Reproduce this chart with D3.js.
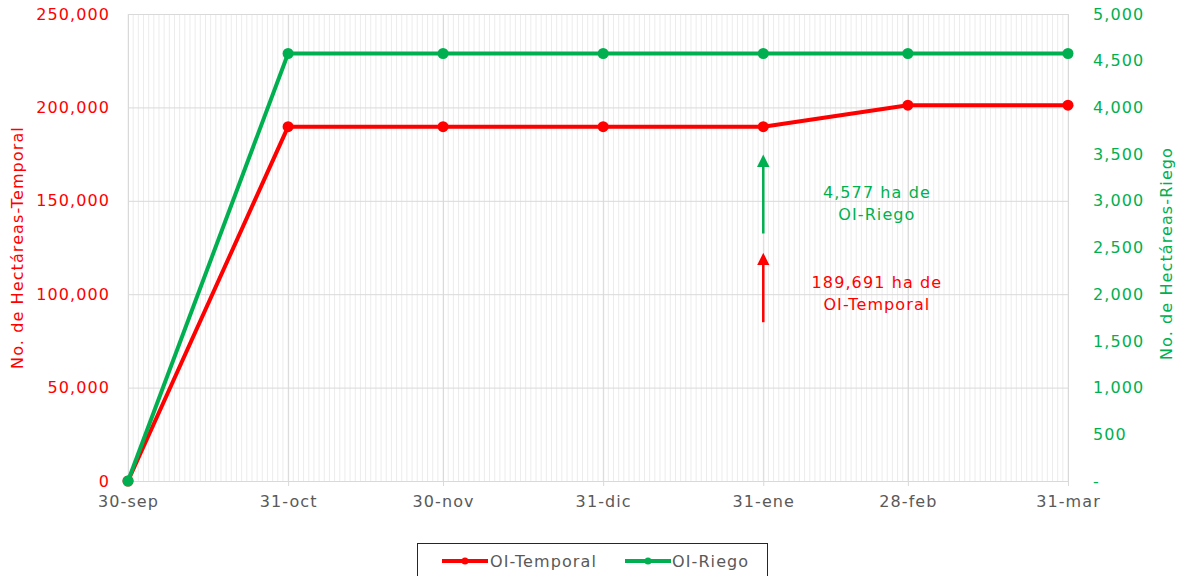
<!DOCTYPE html>
<html>
<head>
<meta charset="utf-8">
<script src="https://cdn.jsdelivr.net/npm/d3@7.9.0/dist/d3.min.js"></script>
<style>
  body { margin: 0; background: #fff; }
  svg text { font-family: "DejaVu Sans", sans-serif; letter-spacing: 1.1px; }
</style>
</head>
<body>
<svg id="chart" width="1184" height="576"></svg>
<script>
const dates = ['2020-09-30', '2020-10-31', '2020-11-30', '2020-12-31', '2021-01-31', '2021-02-28', '2021-03-31'];
const tickLabels = ['30-sep', '31-oct', '30-nov', '31-dic', '31-ene', '28-feb', '31-mar'];
const temporal = [0, 189691, 189691, 189691, 189691, 201200, 201200];
const riego = [0, 4577, 4577, 4577, 4577, 4577, 4577];
const leftTicks = [0, 50000, 100000, 150000, 200000, 250000];
const rightTicks = [0, 500, 1000, 1500, 2000, 2500, 3000, 3500, 4000, 4500, 5000];

const RED = '#ff0000';
const GREEN = '#00b050';

const parse = d3.timeParse('%Y-%m-%d');
const xDates = dates.map(parse);

const margin = { top: 14, right: 116, bottom: 95, left: 128 };
const width = 1184, height = 576;
const usable = {
    left: margin.left,
    right: width - margin.right,
    top: margin.top,
    bottom: height - margin.bottom,
};

const svg = d3.select('#chart');

const xScale = d3.scaleTime()
    .domain(d3.extent(xDates))
    .range([usable.left, usable.right]);
const yLeft = d3.scaleLinear().domain([0, 250000]).range([usable.bottom, usable.top]);
const yRight = d3.scaleLinear().domain([0, 5000]).range([usable.bottom, usable.top]);

// daily minor gridlines
const days = d3.timeDay.range(xDates[0], d3.timeDay.offset(xDates[xDates.length - 1], 1));
svg.append('g')
    .selectAll('line')
    .data(days)
    .join('line')
    .attr('x1', d => xScale(d)).attr('x2', d => xScale(d))
    .attr('y1', usable.top).attr('y2', usable.bottom)
    .attr('stroke', '#ececec')
    .attr('stroke-width', 1);

// horizontal gridlines
svg.append('g')
    .attr('transform', `translate(${usable.left},0)`)
    .call(d3.axisLeft(yLeft).tickValues(leftTicks).tickFormat('').tickSize(-(usable.right - usable.left)))
    .call(g => g.select('.domain').remove())
    .call(g => g.selectAll('line').attr('stroke', '#d9d9d9'));

// major vertical gridlines
svg.append('g')
    .attr('transform', `translate(0,${usable.bottom})`)
    .call(d3.axisBottom(xScale).tickValues(xDates).tickFormat('').tickSize(-(usable.bottom - usable.top)))
    .call(g => g.select('.domain').remove())
    .call(g => g.selectAll('line').attr('stroke', '#d9d9d9'));

// x axis
svg.append('g')
    .attr('transform', `translate(0,${usable.bottom})`)
    .call(d3.axisBottom(xScale).tickValues(xDates).tickFormat((d, i) => tickLabels[i]).tickSize(5).tickPadding(10))
    .call(g => g.select('.domain').attr('stroke', '#d9d9d9'))
    .call(g => g.selectAll('line').attr('stroke', '#d9d9d9'))
    .call(g => g.selectAll('text').attr('fill', '#595959').attr('font-size', 16));

// left axis
svg.append('g')
    .attr('transform', `translate(${usable.left},0)`)
    .call(d3.axisLeft(yLeft).tickValues(leftTicks).tickFormat(d3.format(',')).tickSize(0).tickPadding(18))
    .call(g => g.select('.domain').attr('stroke', '#d9d9d9'))
    .call(g => g.selectAll('text').attr('fill', RED).attr('font-size', 16));

// right axis
svg.append('g')
    .attr('transform', `translate(${usable.right},0)`)
    .call(d3.axisRight(yRight).tickValues(rightTicks).tickFormat(d => d === 0 ? '-' : d3.format(',')(d)).tickSize(0).tickPadding(25))
    .call(g => g.select('.domain').remove())
    .call(g => g.selectAll('text').attr('fill', GREEN).attr('font-size', 16));

// axis titles
svg.append('text')
    .attr('transform', `translate(23,${(usable.top + usable.bottom) / 2}) rotate(-90)`)
    .attr('text-anchor', 'middle')
    .attr('fill', RED)
    .attr('font-size', 16)
    .text('No. de Hectáreas-Temporal');

svg.append('text')
    .attr('transform', `translate(1172,${(usable.top + usable.bottom) / 2 + 6}) rotate(-90)`)
    .attr('text-anchor', 'middle')
    .attr('fill', GREEN)
    .attr('font-size', 16)
    .text('No. de Hectáreas-Riego');

// series
const series = [
    { name: 'OI-Temporal', values: temporal, y: yLeft, color: RED },
    { name: 'OI-Riego', values: riego, y: yRight, color: GREEN },
];

series.forEach(s => {
    const pts = s.values.map((v, i) => [xDates[i], v]);
    svg.append('path')
        .datum(pts)
        .attr('fill', 'none')
        .attr('stroke', s.color)
        .attr('stroke-width', 4)
        .attr('stroke-linejoin', 'round')
        .attr('d', d3.line().x(d => xScale(d[0])).y(d => s.y(d[1])));
    svg.append('g')
        .selectAll('circle')
        .data(pts)
        .join('circle')
        .attr('cx', d => xScale(d[0]))
        .attr('cy', d => s.y(d[1]))
        .attr('r', 5.5)
        .attr('fill', s.color);
});

// annotations
const annDate = xDates[4];
const ax = xScale(annDate);
const defs = svg.append('defs');
[['arrRed', RED], ['arrGreen', GREEN]].forEach(([id, c]) => {
    defs.append('marker')
        .attr('id', id)
        .attr('viewBox', '0 0 10 10')
        .attr('refX', 5).attr('refY', 5)
        .attr('markerWidth', 5).attr('markerHeight', 5)
        .attr('orient', 'auto')
        .attr('markerUnits', 'strokeWidth')
        .append('path')
        .attr('d', 'M0,0 L10,5 L0,10 Z')
        .attr('fill', c);
});

svg.append('line')
    .attr('x1', ax).attr('x2', ax)
    .attr('y1', yRight(2650)).attr('y2', yRight(3430))
    .attr('stroke', GREEN).attr('stroke-width', 2.5)
    .attr('marker-end', 'url(#arrGreen)');
svg.append('line')
    .attr('x1', ax).attr('x2', ax)
    .attr('y1', yLeft(85000)).attr('y2', yLeft(118800))
    .attr('stroke', RED).attr('stroke-width', 2.5)
    .attr('marker-end', 'url(#arrRed)');

const annX = xScale(d3.timeDay.offset(annDate, 22));
const annGreen = svg.append('text')
    .attr('text-anchor', 'middle').attr('fill', GREEN).attr('font-size', 16);
annGreen.append('tspan').attr('x', annX).attr('y', 198).text(`${d3.format(',')(riego[4])} ha de`);
annGreen.append('tspan').attr('x', annX).attr('y', 220).text('OI-Riego');

const annRed = svg.append('text')
    .attr('text-anchor', 'middle').attr('fill', RED).attr('font-size', 16);
annRed.append('tspan').attr('x', annX).attr('y', 288).text(`${d3.format(',')(temporal[4])} ha de`);
annRed.append('tspan').attr('x', annX).attr('y', 310).text('OI-Temporal');

// legend
const legend = svg.append('g');
legend.append('rect')
    .attr('x', 417.5).attr('y', 543.5)
    .attr('width', 350).attr('height', 40)
    .attr('fill', '#fff').attr('stroke', '#262626');
const legItems = [
    { s: series[0], x: 442, tx: 490 },
    { s: series[1], x: 625, tx: 672 },
];
legItems.forEach(it => {
    legend.append('line')
        .attr('x1', it.x).attr('x2', it.x + 46)
        .attr('y1', 561).attr('y2', 561)
        .attr('stroke', it.s.color).attr('stroke-width', 4);
    legend.append('circle')
        .attr('cx', it.x + 23).attr('cy', 561).attr('r', 3.5)
        .attr('fill', it.s.color);
    legend.append('text')
        .attr('x', it.tx).attr('y', 567)
        .attr('fill', '#595959').attr('font-size', 16)
        .text(it.s.name);
});
</script>
</body>
</html>
